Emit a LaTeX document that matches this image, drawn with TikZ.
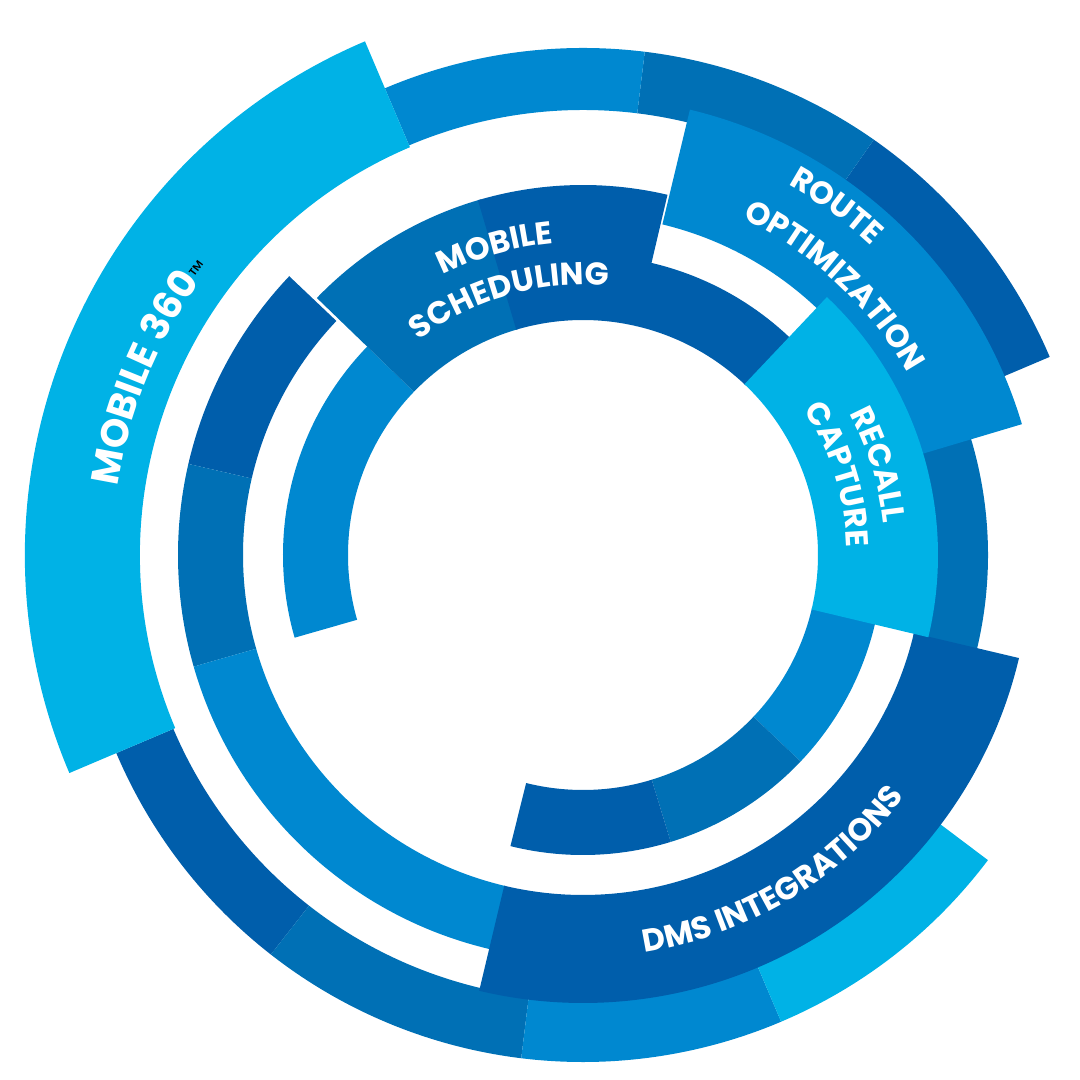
\documentclass[tikz,border=0pt]{standalone}
\usepackage{fontspec}
\setmainfont{Poppins}
\usetikzlibrary{decorations.text}
\definecolor{lightblue}{HTML}{00B2E6}
\definecolor{midblue}{HTML}{0088D0}
\definecolor{steelblue}{HTML}{0070B5}
\definecolor{darkblue}{HTML}{005EAB}
% ring segment: inner radius, outer radius, start angle, end angle, colour
\newcommand{\ringseg}[5]{%
  \fill[#5] (#3:#2) arc[start angle=#3, end angle=#4, radius=#2]
    -- (#4:#1) arc[start angle=#4, end angle=#3, radius=#1] -- cycle;}
\tikzset{
  biglabel/.style={decorate, decoration={text along path, text align=center,
    text={|\color{white}\bfseries\fontsize{11pt}{13pt}\selectfont|#1}}},
  smalllabel/.style={decorate, decoration={text along path, text align=center,
    text={|\color{white}\bfseries\fontsize{9pt}{11pt}\selectfont|#1}}}
}
\begin{document}
\begin{tikzpicture}[x=0.01cm, y=0.01cm]
  \useasboundingbox (-583,-525) rectangle (497,555);
  % outer ring
  \ringseg{445}{507}{23}{55}{darkblue}
  \ringseg{445}{507}{55}{83}{steelblue}
  \ringseg{445}{507}{83}{113}{midblue}
  \ringseg{445}{507}{203}{232}{darkblue}
  \ringseg{445}{507}{232}{263}{steelblue}
  \ringseg{445}{507}{263}{293}{midblue}
  \ringseg{445}{507}{293}{323}{lightblue}
  \ringseg{443}{558}{113}{203}{lightblue}
  % middle ring
  \ringseg{340}{405}{136.5}{167}{darkblue}
  \ringseg{340}{405}{167}{196}{steelblue}
  \ringseg{340}{405}{196}{257}{midblue}
  \ringseg{340}{405}{-14}{17}{steelblue}
  % inner ring
  \ringseg{235}{300}{136}{196}{midblue}
  \ringseg{235}{300}{46}{77}{darkblue}
  \ringseg{235}{300}{-43.5}{-13}{midblue}
  \ringseg{235}{300}{-73}{-43.5}{steelblue}
  \ringseg{235}{300}{-104}{-73}{darkblue}
  % highlighted segments
  \ringseg{340}{458}{16.6}{76.5}{midblue}
  \ringseg{340}{448}{-103.4}{-13.3}{darkblue}
  \ringseg{235}{370}{106}{136}{steelblue}
  \ringseg{235}{370}{76.8}{106.5}{darkblue}
  \ringseg{235}{355}{-13.4}{46.6}{lightblue}
  % labels
  \path[biglabel={MOBILE 360|\fontsize{6pt}{7pt}\selectfont|™}] (178:470) arc[start angle=178, end angle=136, radius=470];
  \path[smalllabel={ROUTE}] (79:423) arc[start angle=79, end angle=29, radius=423];
  \path[smalllabel={OPTIMIZATION}] (77:372) arc[start angle=77, end angle=17, radius=372];
  \path[smalllabel={RECALL}] (47:302) arc[start angle=47, end angle=-13, radius=302];
  \path[smalllabel={CAPTURE}] (48:264) arc[start angle=48, end angle=-13, radius=264];
  \path[smalllabel={MOBILE}] (136:313) arc[start angle=136, end angle=76, radius=313];
  \path[smalllabel={SCHEDULING}] (136:270) arc[start angle=136, end angle=76, radius=270];
  \path[smalllabel={DMS INTEGRATIONS}] (-89:402) arc[start angle=-89, end angle=-29, radius=402];
\end{tikzpicture}
\end{document}
